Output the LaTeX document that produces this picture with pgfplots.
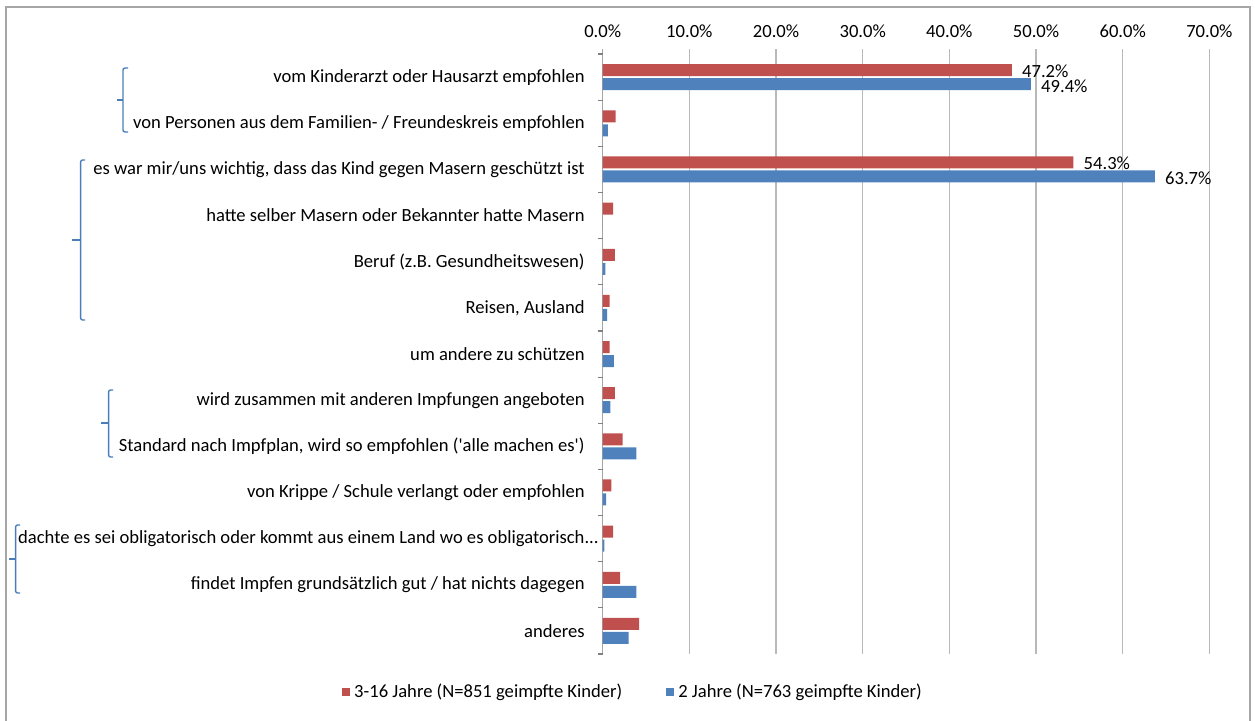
\documentclass[border=0pt]{standalone}
\usepackage{pgfplots}
\pgfplotsset{compat=1.18}
\usepackage{fontspec}
\setmainfont{Carlito}
\definecolor{exred}{HTML}{C0504D}
\definecolor{exblue}{HTML}{4F81BD}
\definecolor{brace}{HTML}{4A7EBB}
\begin{document}
\fontsize{9.3}{11}\selectfont
\begin{tikzpicture}
\path[use as bounding box] (0,0) rectangle (627.5pt,360pt);
\draw[gray!70, line width=0.7pt] (3pt,-5pt) -- (3pt,356.5pt) -- (625pt,356.5pt) -- (625pt,-5pt);
\begin{axis}[
  at={(301.35pt,33pt)}, anchor=south west,
  scale only axis, width=303.35pt, height=302.5pt,
  xmin=0, xmax=70, xtick={0,10,...,70},
  xticklabel pos=upper,
  xticklabel={\pgfmathprintnumber[fixed,fixed zerofill,precision=1]{\tick}\%},
  /pgf/number format/assume math mode=true,
  xticklabel style={inner sep=0pt, yshift=5.5pt, font=\fontsize{9.3}{11}\selectfont},
  xmajorgrids, major grid style={gray!55, line width=0.6pt},
  major tick length=0pt,
  ymin=-0.61, ymax=12.5, y dir=reverse,
  ytick={0,...,12},
  yticklabels={
    vom Kinderarzt oder Hausarzt empfohlen,
    von Personen aus dem Familien- / Freundeskreis empfohlen,
    {es war mir/uns wichtig, dass das Kind gegen Masern geschützt ist},
    hatte selber Masern oder Bekannter hatte Masern,
    Beruf (z.B. Gesundheitswesen),
    {Reisen, Ausland},
    um andere zu schützen,
    wird zusammen mit anderen Impfungen angeboten,
    {Standard nach Impfplan, wird so empfohlen (\textquotesingle alle machen es\textquotesingle)},
    von Krippe / Schule verlangt oder empfohlen,
    {dachte es sei obligatorisch oder kommt aus einem Land wo es obligatorisch\rlap{...}},
    findet Impfen grundsätzlich gut / hat nichts dagegen,
    anderes},
  yticklabel style={inner sep=0pt, xshift=-8.85pt, font=\fontsize{9.3}{11}\selectfont},
  minor ytick={-0.5,0.5,...,12.5},
  minor y tick style={gray, line width=0.6pt},
  minor tick length=2.5pt,
  tick align=outside,
  ytick pos=left,
  axis line style={draw=none},
  bar width=6pt,
  point meta=explicit symbolic,
  nodes near coords,
  every node near coord/.append style={anchor=west, inner sep=0pt, xshift=5pt, font=\fontsize{9.3}{11}\selectfont, text=black},
  legend style={at={(0.0516,-0.0628)}, anchor=center, draw=none, fill=none,
    legend columns=2, font=\fontsize{9.3}{11}\selectfont,
    /tikz/every even column/.append style={column sep=20pt}},
  legend image code/.code={\fill[#1] (0pt,-2pt) rectangle (4pt,2pt);},
]
\addplot[xbar, fill=exred, draw=none, bar shift=3.5pt,
  every node near coord/.append style={yshift=3pt}] coordinates {
  (47.2,0) [47.2\%]
  (1.5,1) []
  (54.3,2) [54.3\%]
  (1.2,3) []
  (1.4,4) []
  (0.8,5) []
  (0.8,6) []
  (1.4,7) []
  (2.3,8) []
  (1.0,9) []
  (1.2,10) []
  (2.0,11) []
  (4.2,12) []
};
\addlegendentry{3-16 Jahre (N=851 geimpfte Kinder)}
\addplot[xbar, fill=exblue, draw=none, bar shift=-3.5pt,
  every node near coord/.append style={yshift=-4.5pt}] coordinates {
  (49.4,0) [49.4\%]
  (0.6,1) []
  (63.7,2) [63.7\%]
  (0.0,3) []
  (0.3,4) []
  (0.5,5) []
  (1.3,6) []
  (0.9,7) []
  (3.9,8) []
  (0.4,9) []
  (0.2,10) []
  (3.9,11) []
  (3.0,12) []
};
\addlegendentry{2 Jahre (N=763 geimpfte Kinder)}
\draw[gray, line width=0.6pt] (rel axis cs:0,0) -- (rel axis cs:0,1);
\end{axis}
% braces (px -> pt: x*0.5, 360 - y*0.5)
\begin{scope}[brace, line width=0.7pt, rounded corners=1pt]
\draw (64pt,326pt) -- (61.5pt,326pt) -- (61.5pt,294pt) -- (64pt,294pt);
\draw (61.5pt,310pt) -- (58.5pt,310pt);
\draw (42.5pt,280pt) -- (40.3pt,280pt) -- (40.3pt,200pt) -- (42.5pt,200pt);
\draw (40.3pt,240pt) -- (35.8pt,240pt);
\draw (56.5pt,165pt) -- (54.3pt,165pt) -- (54.3pt,131.5pt) -- (56.5pt,131.5pt);
\draw (54.3pt,148.5pt) -- (50.5pt,148.5pt);
\draw (10pt,97.5pt) -- (7.8pt,97.5pt) -- (7.8pt,63.5pt) -- (10pt,63.5pt);
\draw (7.8pt,80.5pt) -- (4.5pt,80.5pt);
\end{scope}
\end{tikzpicture}
\end{document}
